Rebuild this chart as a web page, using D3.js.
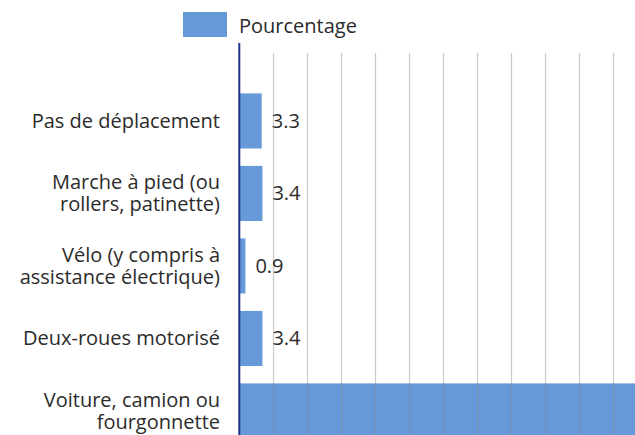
<!DOCTYPE html>
<html>
<head>
<meta charset="utf-8">
<script src="https://cdn.jsdelivr.net/npm/d3@7"></script>
<style>
  html, body { margin: 0; padding: 0; background: #fff; overflow: hidden; }
  text { font-family: "Open Sans", sans-serif; fill: #2b2b2b; }
</style>
</head>
<body>
<div id="chart"></div>
<script>
// chart data
var categories = [
    "Pas de déplacement",
    "Marche à pied (ou\nrollers, patinette)",
    "Vélo (y compris à\nassistance électrique)",
    "Deux-roues motorisé",
    "Voiture, camion ou\nfourgonnette"
];
var values = [3.3, 3.4, 0.9, 3.4, 74.0];
var seriesName = "Pourcentage";
var gridTicks = d3.range(5, 105, 5);

var width = 635;
var height = 435;
var fontSize = 20;

var svg = d3.select("#chart")
    .append("svg")
    .attr("width", width)
    .attr("height", height);

// x scale: ~6.79 px per percent, chart runs past the right edge
var x = d3.scaleLinear()
    .domain([0, 100])
    .range([239.3, 918.3]);

var y = d3.scaleBand()
    .domain(categories)
    .range([76, 76 + 72.5 * 5.24])
    .paddingInner(0.24)
    .paddingOuter(0.24);

var rows = categories.map(function(c, i) { return {name: c, value: values[i]}; });

// bars
svg.append("g")
    .selectAll("rect")
    .data(rows)
    .enter()
    .append("rect")
    .attr("x", x(0))
    .attr("y", function(d) { return y(d.name); })
    .attr("width", function(d) { return x(d.value) - x(0); })
    .attr("height", y.bandwidth())
    .attr("fill", "#6699d8");

// vertical grid lines (drawn over the bars, semi transparent)
svg.append("g")
    .selectAll("line")
    .data(gridTicks)
    .enter()
    .append("line")
    .attr("x1", function(d) { return Math.round(x(d)) + 0.5; })
    .attr("x2", function(d) { return Math.round(x(d)) + 0.5; })
    .attr("y1", 53)
    .attr("y2", height)
    .attr("stroke", "#8a8a8a")
    .attr("stroke-opacity", 0.45)
    .attr("stroke-width", 1.2);

// value axis line
svg.append("line")
    .attr("x1", x(0))
    .attr("x2", x(0))
    .attr("y1", 43)
    .attr("y2", height)
    .attr("stroke", "#22308a")
    .attr("stroke-width", 2);

// category labels
var lineHeight = 22;
svg.append("g")
    .selectAll("text")
    .data(rows)
    .enter()
    .append("text")
    .attr("text-anchor", "end")
    .attr("font-size", fontSize)
    .attr("transform", function(d) {
        return "translate(220," + (y(d.name) + y.bandwidth() / 2) + ")";
    })
    .each(function(d) {
        var lines = d.name.split("\n");
        var t = d3.select(this);
        lines.forEach(function(l, i) {
            t.append("tspan")
                .attr("x", 0)
                .attr("y", (i - (lines.length - 1) / 2) * lineHeight)
                .attr("dy", "0.35em")
                .text(l);
        });
    });

// value labels (the long bar's label falls outside the visible area)
svg.append("g")
    .selectAll("text")
    .data(rows.filter(function(d) { return x(d.value) + 10 < width; }))
    .enter()
    .append("text")
    .attr("x", function(d) { return x(d.value) + 10; })
    .attr("y", function(d) { return y(d.name) + y.bandwidth() / 2; })
    .attr("dy", "0.35em")
    .attr("font-size", fontSize)
    .text(function(d) { return d3.format(".1f")(d.value); });

// legend
var legend = svg.append("g");
legend.append("rect")
    .attr("x", 183)
    .attr("y", 12)
    .attr("width", 44)
    .attr("height", 25)
    .attr("fill", "#6699d8");
legend.append("text")
    .attr("x", 239)
    .attr("y", 26)
    .attr("dy", "0.35em")
    .attr("font-size", fontSize)
    .text(seriesName);
</script>
</body>
</html>
